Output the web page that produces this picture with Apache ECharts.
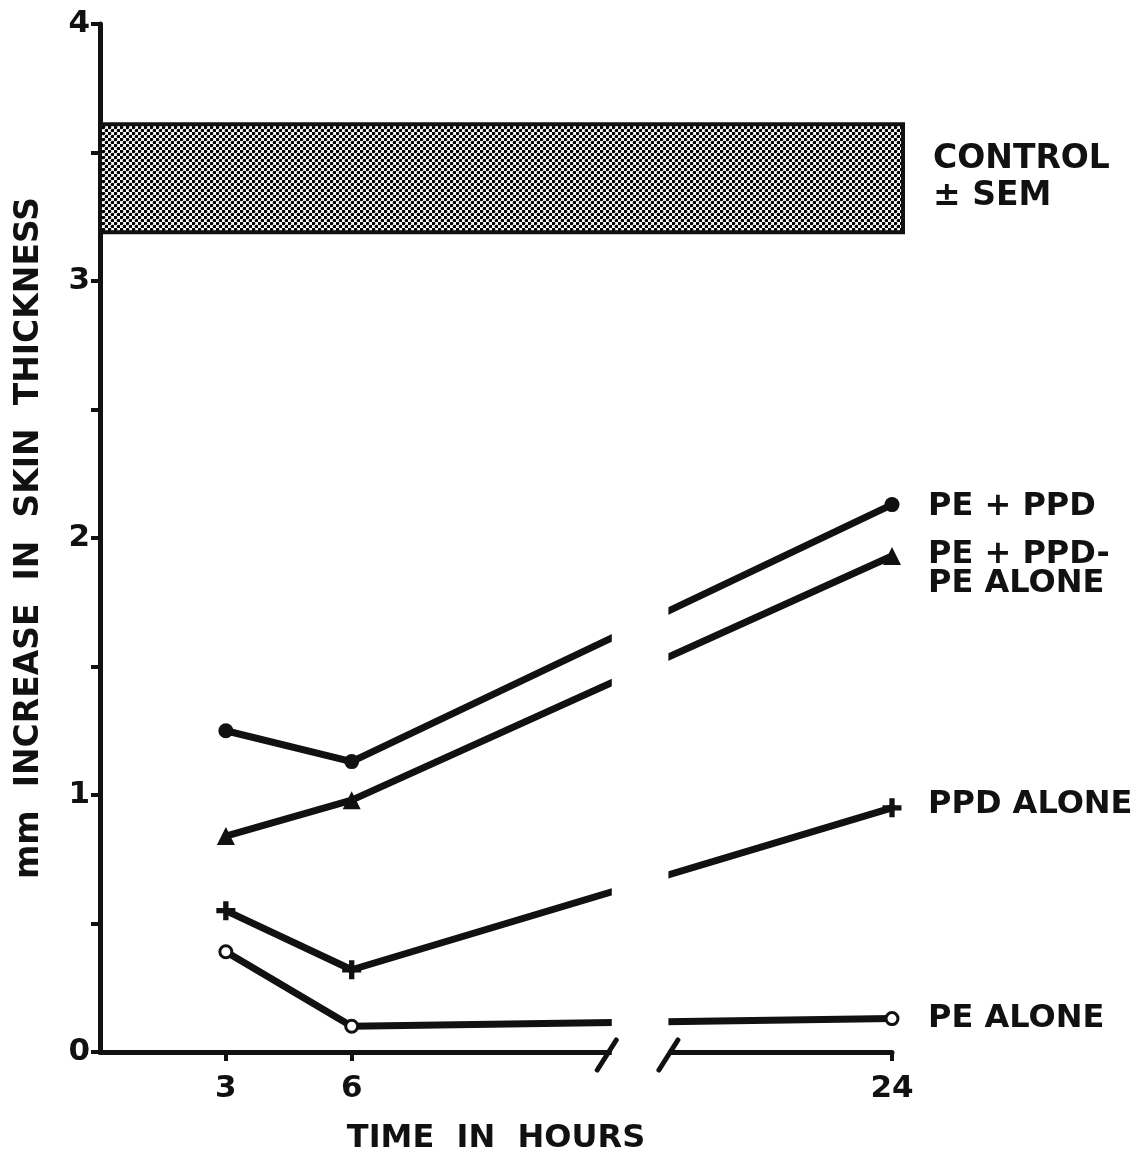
<!DOCTYPE html>
<html>
<head>
<meta charset="utf-8">
<script src="https://cdn.jsdelivr.net/npm/echarts@6/dist/echarts.min.js"></script>
<style>
  html, body { margin: 0; padding: 0; background: #fff; }
  #chart { width: 1147px; height: 1158px; }
</style>
</head>
<body>
<div id="chart"></div>
<script>
// Sampling times (hours) and tick labels on the time axis
const hours = [3, 6, 24];
const xTickHours = [3, 6, 24];
const yTickValues = [0, 1, 2, 3, 4];

// mm increase in skin thickness per group
const pePpd = [1.25, 1.13, 2.13];
const pePpdMinusPe = [0.84, 0.98, 1.93];
const ppdAlone = [0.55, 0.32, 0.95];
const peAlone = [0.39, 0.10, 0.13];

// Control response, mean and SEM
const controlMean = 3.40;
const controlSem = 0.21;

const seriesLabels = ['PE + PPD', 'PE + PPD-\nPE ALONE', 'PPD ALONE', 'PE ALONE'];
const controlLabel = 'CONTROL\n± SEM';

// The time axis is broken between 12 h and ~17 h: times past the break are
// pulled left by BREAK_SHIFT so that 24 h sits just after the gap.
const BREAK_FROM = 12;
const BREAK_SHIFT = 5.12;
const GAP_START = 12.2;   // axis units where the break gap starts
const GAP_END = 13.55;    // axis units where the break gap ends
function hoursToAxis(h) { return h <= BREAK_FROM ? h : h - BREAK_SHIFT; }

const FONT = '"DejaVu Sans", "Liberation Sans", sans-serif';
const INK = '#111';

function pairs(values) { return hours.map((h, i) => [hoursToAxis(h), values[i]]); }

// halftone dot pattern for the control band
function halftone() {
  const c = document.createElement('canvas');
  c.width = 6; c.height = 6;
  const g = c.getContext('2d');
  g.fillStyle = '#fff'; g.fillRect(0, 0, 6, 6);
  g.fillStyle = '#000';
  [[1.5, 1.5], [4.5, 4.5]].forEach(([x, y]) => {
    g.beginPath(); g.arc(x, y, 1.8, 0, Math.PI * 2); g.fill();
  });
  return c;
}
const bandPattern = { image: halftone(), repeat: 'repeat' };

const plusPath = 'path://M3.6,0h2.8v3.6h3.6v2.8h-3.6v3.6h-2.8v-3.6h-3.6v-2.8h3.6z';

function lineSeries(name, values, symbol, size, itemStyle, labelOffset) {
  return {
    type: 'line',
    name: name,
    data: pairs(values),
    symbol: symbol,
    symbolSize: size,
    showSymbol: true,
    z: 3,
    lineStyle: { color: INK, width: 7, cap: 'round', join: 'round' },
    itemStyle: itemStyle,
    endLabel: {
      show: true,
      formatter: () => name,
      distance: 36,
      offset: labelOffset,
      color: INK,
      fontFamily: FONT,
      fontWeight: 'bold',
      fontSize: 32,
      lineHeight: 29,
      align: 'left'
    }
  };
}

const chart = echarts.init(document.getElementById('chart'), null, { renderer: 'canvas' });

const xMax = hoursToAxis(24);

chart.setOption({
  animation: false,
  backgroundColor: '#fff',
  grid: { left: 100, right: 255, top: 24, bottom: 106, containLabel: false, outerBoundsMode: 'none' },
  xAxis: {
    type: 'value',
    min: 0,
    max: xMax,
    name: 'TIME  IN  HOURS',
    nameLocation: 'middle',
    nameGap: 71,
    nameTextStyle: { color: INK, fontFamily: FONT, fontWeight: 'bold', fontSize: 32 },
    splitLine: { show: false },
    axisLine: { show: true, lineStyle: { color: INK, width: 5 } },
    axisTick: {
      show: true, inside: false, length: 9,
      customValues: xTickHours.map(hoursToAxis),
      lineStyle: { color: INK, width: 4 }
    },
    axisLabel: {
      show: true, margin: 21,
      customValues: xTickHours.map(hoursToAxis),
      formatter: v => {
        const h = xTickHours.find(t => Math.abs(hoursToAxis(t) - v) < 1e-6);
        return h === undefined ? '' : String(h);
      },
      color: INK, fontFamily: FONT, fontWeight: 'bold', fontSize: 31
    }
  },
  yAxis: {
    type: 'value',
    min: 0,
    max: 4,
    interval: 0.5,
    name: 'mm  INCREASE  IN  SKIN  THICKNESS',
    nameLocation: 'middle',
    nameGap: 54,
    nameTextStyle: { color: INK, fontFamily: FONT, fontWeight: 'bold', fontSize: 33 },
    splitLine: { show: false },
    axisLine: { show: true, lineStyle: { color: INK, width: 5 } },
    axisTick: { show: true, inside: false, length: 9, lineStyle: { color: INK, width: 4 } },
    axisLabel: {
      margin: 10,
      formatter: v => (yTickValues.indexOf(v) >= 0 ? String(v) : ''),
      color: INK, fontFamily: FONT, fontWeight: 'bold', fontSize: 31
    }
  },
  series: [
    {
      // control band: mean ± SEM across the whole time span
      type: 'custom',
      name: 'control',
      z: 1,
      data: [[0, controlMean - controlSem, controlMean + controlSem]],
      renderItem: (params, api) => {
        const p0 = api.coord([api.value(0), api.value(2)]);
        const p1 = api.coord([xMax, api.value(1)]);
        const right = p1[0] + 11;
        return {
          type: 'group',
          children: [
            {
              type: 'rect',
              shape: { x: p0[0], y: p0[1], width: right - p0[0], height: p1[1] - p0[1] },
              style: { fill: bandPattern, stroke: INK, lineWidth: 4 }
            },
            {
              type: 'text',
              style: {
                x: right + 30, y: (p0[1] + p1[1]) / 2,
                text: controlLabel,
                fill: INK,
                font: 'bold 33px ' + FONT,
                lineHeight: 37,
                align: 'left', verticalAlign: 'middle'
              }
            }
          ]
        };
      }
    },
    lineSeries(seriesLabels[0], pePpd, 'circle', 15, { color: INK }, [0, 2]),
    lineSeries(seriesLabels[1], pePpdMinusPe, 'triangle', 18, { color: INK }, [0, 13]),
    lineSeries(seriesLabels[2], ppdAlone, plusPath, 19, { color: INK }, [0, -3]),
    lineSeries(seriesLabels[3], peAlone, 'circle', 12,
      { color: '#fff', borderColor: INK, borderWidth: 3 }, [0, 0])
  ]
});

// white gap across the lines and axis at the time break, plus the break slashes
function drawBreak() {
  const a = chart.convertToPixel({ gridIndex: 0 }, [GAP_START, 0]);
  const b = chart.convertToPixel({ gridIndex: 0 }, [GAP_END, 2.5]);
  const yAxisPx = a[1];
  const slash = (cx) => ({
    type: 'line',
    z: 101,
    shape: { x1: cx - 9.5, y1: yAxisPx + 18, x2: cx + 9.5, y2: yAxisPx - 12 },
    style: { stroke: INK, lineWidth: 5, lineCap: 'round' }
  });
  chart.setOption({
    graphic: [
      {
        type: 'rect',
        z: 100,
        shape: { x: a[0], y: b[1], width: b[0] - a[0], height: yAxisPx + 6 - b[1] },
        style: { fill: '#fff' }
      },
      slash(a[0] - 5),
      slash(b[0])
    ]
  });
}
drawBreak();
</script>
</body>
</html>
